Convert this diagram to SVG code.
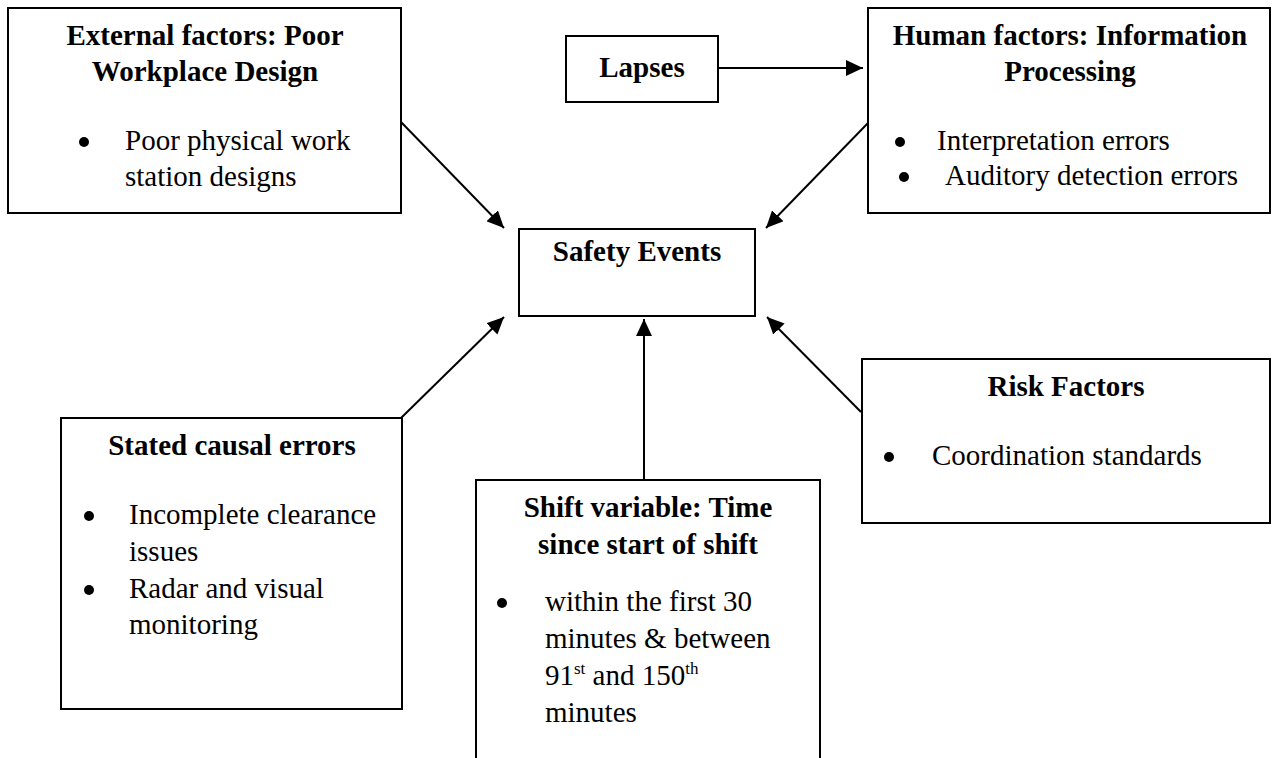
<svg xmlns="http://www.w3.org/2000/svg" width="1272" height="758" viewBox="0 0 1272 758">
<style>
.box{fill:#fff;stroke:#000;stroke-width:2}
.t{font-family:"Liberation Serif","Times New Roman",serif;font-size:29px;fill:#000}
.b{font-weight:bold;text-anchor:middle}
.bul{fill:#000}
.con{stroke:#000;stroke-width:2;fill:none;marker-end:url(#ah)}
</style>
<defs>
<marker id="ah" viewBox="0 0 17 16" refX="17" refY="8" markerWidth="17" markerHeight="16" markerUnits="userSpaceOnUse" orient="auto">
<path d="M0,0 L17,8 L0,16 z" fill="#000"/>
</marker>
</defs>
<rect width="1272" height="758" fill="#fff"/>
<g id="connectors">
<path class="con" d="M718,68 L863,68"/>
<path class="con" d="M401,122 L504,228"/>
<path class="con" d="M868,123 L766,228"/>
<path class="con" d="M401,418 L504,317"/>
<path class="con" d="M644,480 L644,319"/>
<path class="con" d="M861,412 L767,317"/>
</g>
<g id="external">
<rect class="box" x="8" y="8" width="393" height="205"/>
<text class="t b" x="205" y="45">External factors: Poor</text>
<text class="t b" x="205" y="81">Workplace Design</text>
<circle class="bul" cx="84" cy="142" r="5"/>
<text class="t" x="125" y="150">Poor physical work</text>
<text class="t" x="125" y="186">station designs</text>
</g>
<g id="lapses">
<rect class="box" x="566" y="36" width="152" height="66"/>
<text class="t b" x="642" y="77">Lapses</text>
</g>
<g id="human">
<rect class="box" x="868" y="8" width="402" height="205"/>
<text class="t b" x="1070" y="45">Human factors: Information</text>
<text class="t b" x="1070" y="81">Processing</text>
<circle class="bul" cx="900" cy="142" r="5"/>
<text class="t" x="937" y="150">Interpretation errors</text>
<circle class="bul" cx="904" cy="177" r="5"/>
<text class="t" x="945" y="185">Auditory detection errors</text>
</g>
<g id="safety">
<rect class="box" x="519" y="229" width="236" height="87"/>
<text class="t b" x="637" y="261">Safety Events</text>
</g>
<g id="stated">
<rect class="box" x="61" y="418" width="341" height="291"/>
<text class="t b" x="232" y="455">Stated causal errors</text>
<circle class="bul" cx="89" cy="516" r="5"/>
<text class="t" x="129" y="524">Incomplete clearance</text>
<text class="t" x="129" y="561">issues</text>
<circle class="bul" cx="89" cy="590" r="5"/>
<text class="t" x="129" y="598">Radar and visual</text>
<text class="t" x="129" y="634">monitoring</text>
</g>
<g id="shift">
<rect class="box" x="476" y="480" width="344" height="300"/>
<text class="t b" x="648" y="517">Shift variable: Time</text>
<text class="t b" x="648" y="554">since start of shift</text>
<circle class="bul" cx="502" cy="603" r="5"/>
<text class="t" x="545" y="611">within the first 30</text>
<text class="t" x="545" y="648">minutes &amp; between</text>
<text class="t" x="545" y="685">91<tspan font-size="17" dy="-11">st</tspan><tspan dy="11"> and 150</tspan><tspan font-size="17" dy="-11">th</tspan></text>
<text class="t" x="545" y="722">minutes</text>
</g>
<g id="risk">
<rect class="box" x="862" y="359" width="408" height="164"/>
<text class="t b" x="1066" y="396">Risk Factors</text>
<circle class="bul" cx="889" cy="457" r="5"/>
<text class="t" x="932" y="465">Coordination standards</text>
</g>
</svg>
